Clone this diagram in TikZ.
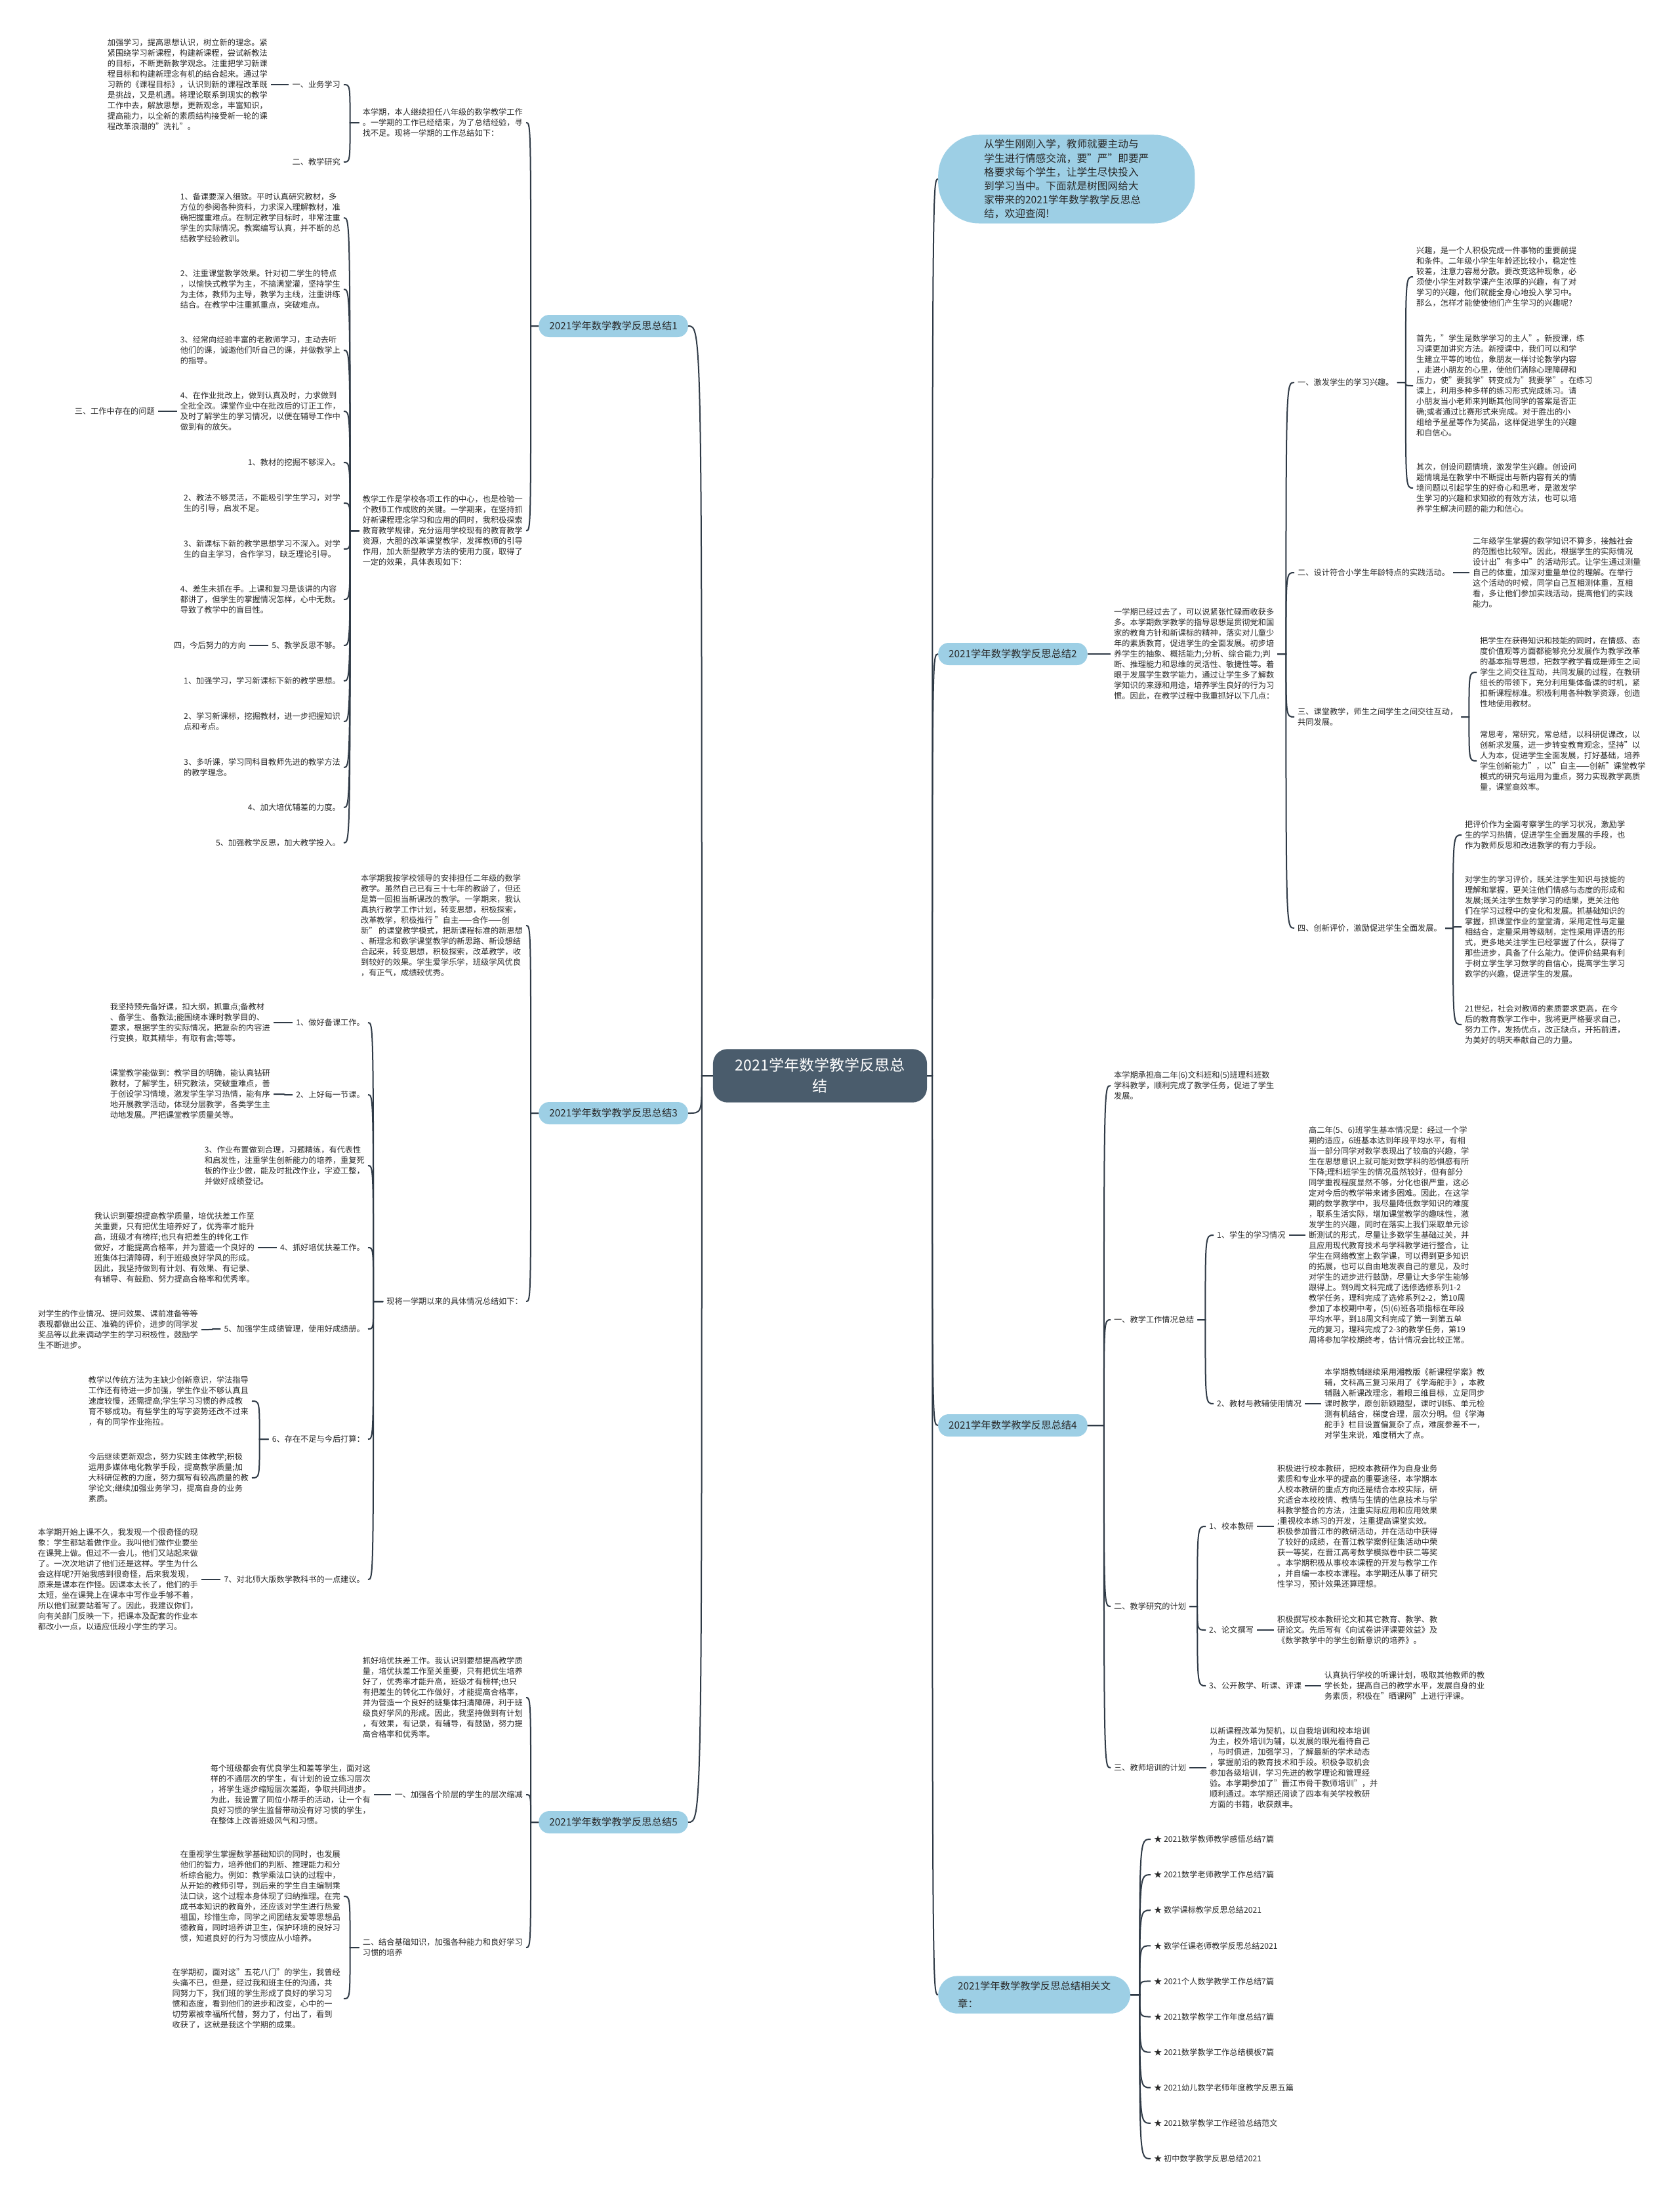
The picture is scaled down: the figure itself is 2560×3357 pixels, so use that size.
\documentclass[tikz,border=0pt]{standalone}
\usepackage{fontspec}
\setmainfont{Noto Sans CJK SC}
\usetikzlibrary{calc}

\definecolor{linegray}{RGB}{47,58,70}
\definecolor{rootslate}{RGB}{74,92,108}
\definecolor{pillblue}{RGB}{157,207,229}
\definecolor{inkgray}{RGB}{40,40,40}

\newcommand\link[3]{%
  \path (#1) ++(#3,0) coordinate (lk);
  \draw[conn] (#1) -- (lk) .. controls (lk |- #2) .. (#2);}

\begin{document}
\begin{tikzpicture}[x=1pt, y=-1pt,
  conn/.style={draw=linegray, line width=2pt},
  hub/.style={fill=rootslate, text=white, rounded corners=22pt, align=center, inner xsep=34pt, inner ysep=14pt, font=\fontsize{23}{32}\selectfont},
  pill/.style={fill=pillblue, text=inkgray, rounded corners=16pt, minimum height=34pt, inner xsep=16pt, inner ysep=0pt, font=\fontsize{15.3}{19}\selectfont},
  txt/.style={text=inkgray, align=left, inner sep=5pt, font=\fontsize{12.2}{16}\selectfont},
  ltext/.style={txt, anchor=east},
  rtext/.style={txt, anchor=west}
]
\useasboundingbox (0,0) rectangle (2560,3357);

\node[hub] (hub) at (1250,1640) {2021学年数学教学反思总\\结};

\node[pill, anchor=east] (br1) at (1049,497) {2021学年数学教学反思总结1};
\node[pill, anchor=east] (br3) at (1049,1697) {2021学年数学教学反思总结3};
\node[pill, anchor=east] (br5) at (1049,2778) {2021学年数学教学反思总结5};
\node[pill, anchor=west] (br2) at (1430,997) {2021学年数学教学反思总结2};
\node[pill, anchor=west] (br4) at (1430,2173) {2021学年数学教学反思总结4};
\node[pill, anchor=west, align=left, rounded corners=29pt, inner xsep=30pt, inner ysep=8pt, font=\fontsize{15.3}{27}\selectfont] (br6) at (1430,3041) {2021学年数学教学反思总结相关文\\章：};
\node[pill, anchor=west, align=left, rounded corners=62pt, inner xsep=70pt, inner ysep=7pt, font=\fontsize{15.7}{21.2}\selectfont] (intro) at (1430,273) {从学生刚刚入学，教师就要主动与\\学生进行情感交流，要"严"即要严\\格要求每个学生，让学生尽快投入\\到学习当中。下面就是树图网给大\\家带来的2021学年数学教学反思总\\结，欢迎查阅!};

% branch 1
\node[ltext] (br1a) at (802,187) {本学期，本人继续担任八年级的数学教学工作\\。一学期的工作已经结束，为了总结经验，寻\\找不足。现将一学期的工作总结如下：};
\node[ltext] (br1a1) at (524,129) {一、业务学习};
\node[ltext] (br1a2) at (524,247) {二、教学研究};
\node[ltext] (br1a1t) at (413,129) {加强学习，提高思想认识，树立新的理念。紧\\紧围绕学习新课程，构建新课程，尝试新教法\\的目标，不断更新教学观念。注重把学习新课\\程目标和构建新理念有机的结合起来。通过学\\习新的《课程目标》，认识到新的课程改革既\\是挑战，又是机遇。将理论联系到现实的教学\\工作中去，解放思想，更新观念，丰富知识，\\提高能力，以全新的素质结构接受新一轮的课\\程改革浪潮的"洗礼"。};
\node[ltext] (br1b) at (802,809) {教学工作是学校各项工作的中心，也是检验一\\个教师工作成败的关键。一学期来，在坚持抓\\好新课程理念学习和应用的同时，我积极探索\\教育教学规律，充分运用学校现有的教育教学\\资源，大胆的改革课堂教学，发挥教师的引导\\作用，加大新型教学方法的使用力度，取得了\\一定的效果，具体表现如下：};
\node[ltext] (br1b1) at (524,332) {1、备课要深入细致。平时认真研究教材，多\\方位的参阅各种资料，力求深入理解教材，准\\确把握重难点。在制定教学目标时，非常注重\\学生的实际情况。教案编写认真，并不断的总\\结教学经验教训。};
\node[ltext] (br1b2) at (524,441) {2、注重课堂教学效果。针对初二学生的特点\\，以愉快式教学为主，不搞满堂灌，坚持学生\\为主体，教师为主导，教学为主线，注重讲练\\结合。在教学中注重抓重点，突破难点。};
\node[ltext] (br1b3) at (524,534) {3、经常向经验丰富的老教师学习，主动去听\\他们的课，诚邀他们听自己的课，并做教学上\\的指导。};
\node[ltext] (br1b4) at (524,627) {4、在作业批改上，做到认真及时，力求做到\\全批全改。课堂作业中在批改后的订正工作，\\及时了解学生的学习情况，以便在辅导工作中\\做到有的放矢。};
\node[ltext] (br1b4h) at (241,627) {三、工作中存在的问题};
\node[ltext] (br1b5) at (524,705) {1、教材的挖掘不够深入。};
\node[ltext] (br1b6) at (524,767) {2、教法不够灵活，不能吸引学生学习，对学\\生的引导，启发不足。};
\node[ltext] (br1b7) at (524,837) {3、新课标下新的教学思想学习不深入。对学\\生的自主学习，合作学习，缺乏理论引导。};
\node[ltext] (br1b8) at (524,914) {4、差生未抓在手。上课和复习是该讲的内容\\都讲了，但学生的掌握情况怎样，心中无数。\\导致了教学中的盲目性。};
\node[ltext] (br1b9) at (524,984) {5、教学反思不够。};
\node[ltext] (br1b9h) at (380,984) {四，今后努力的方向};
\node[ltext] (br1b10) at (524,1038) {1、加强学习，学习新课标下新的教学思想。};
\node[ltext] (br1b11) at (524,1100) {2、学习新课标，挖掘教材，进一步把握知识\\点和考点。};
\node[ltext] (br1b12) at (524,1170) {3、多听课，学习同科目教师先进的教学方法\\的教学理念。};
\node[ltext] (br1b13) at (524,1231) {4、加大培优辅差的力度。};
\node[ltext] (br1b14) at (524,1285) {5、加强教学反思，加大教学投入。};

% branch 3
\node[ltext] (br3a) at (802,1411) {本学期我按学校领导的安排担任二年级的数学\\教学。虽然自己已有三十七年的教龄了，但还\\是第一回担当新课改的教学。一学期来，我认\\真执行教学工作计划，转变思想，积极探索，\\改革教学，积极推行 "自主——合作——创\\新" 的课堂教学模式，把新课程标准的新思想\\、新理念和数学课堂教学的新思路、新设想结\\合起来，转变思想，积极探索，改革教学，收\\到较好的效果。学生爱学乐学，班级学风优良\\，有正气，成绩较优秀。};
\node[ltext] (br3b) at (802,1984) {现将一学期以来的具体情况总结如下：};
\node[ltext] (br3b1) at (561,1559) {1、做好备课工作。};
\node[ltext] (br3bt1) at (417,1559) {我坚持预先备好课，扣大纲，抓重点;备教材\\、备学生、备教法;能围绕本课时教学目的、\\要求，根据学生的实际情况，把复杂的内容进\\行变换，取其精华，有取有舍;等等。};
\node[ltext] (br3b2) at (561,1669) {2、上好每一节课。};
\node[ltext] (br3bt2) at (417,1668) {课堂教学能做到：教学目的明确，能认真钻研\\教材，了解学生，研究教法，突破重难点，善\\于创设学习情境，激发学生学习热情，能有序\\地开展教学活动，体现分层教学，各类学生主\\动地发展。严把课堂教学质量关等。};
\node[ltext] (br3b3) at (561,1777) {3、作业布置做到合理，习题精练，有代表性\\和启发性，注重学生创新能力的培养，重复死\\板的作业少做，能及时批改作业，字迹工整，\\并做好成绩登记。};
\node[ltext] (br3b4) at (561,1902) {4、抓好培优扶差工作。};
\node[ltext] (br3bt4) at (393,1902) {我认识到要想提高教学质量，培优扶差工作至\\关重要，只有把优生培养好了，优秀率才能升\\高，班级才有榜样;也只有把差生的转化工作\\做好，才能提高合格率，并为营造一个良好的\\班集体扫清障碍，利于班级良好学风的形成。\\因此，我坚持做到有计划、有效果、有记录、\\有辅导、有鼓励、努力提高合格率和优秀率。};
\node[ltext] (br3b5) at (561,2026) {5、加强学生成绩管理，使用好成绩册。};
\node[ltext] (br3bt5) at (307,2027) {对学生的作业情况、提问效果、课前准备等等\\表现都做出公正、准确的评价，进步的同学发\\奖品等以此来调动学生的学习积极性，鼓励学\\生不断进步。};
\node[ltext] (br3b6) at (561,2194) {6、存在不足与今后打算：};
\node[ltext] (br3b6a) at (384,2136) {教学以传统方法为主缺少创新意识，学法指导\\工作还有待进一步加强，学生作业不够认真且\\速度较慢，还需提高;学生学习习惯的养成教\\育不够成功。有些学生的写字姿势还改不过来\\，有的同学作业拖拉。};
\node[ltext] (br3b6b) at (384,2253) {今后继续更新观念，努力实践主体教学;积极\\运用多媒体电化教学手段，提高教学质量;加\\大科研促教的力度，努力撰写有较高质量的教\\学论文;继续加强业务学习，提高自身的业务\\素质。};
\node[ltext] (br3b7) at (561,2408) {7、对北师大版数学教科书的一点建议。};
\node[ltext] (br3bt7) at (307,2408) {本学期开始上课不久，我发现一个很奇怪的现\\象：学生都站着做作业。我叫他们做作业要坐\\在课凳上做。但过不一会儿，他们又站起来做\\了。一次次地讲了他们还是这样。学生为什么\\会这样呢?开始我感到很奇怪，后来我发现，\\原来是课本在作怪。因课本太长了，他们的手\\太短，坐在课凳上在课本中写作业手够不着，\\所以他们就要站着写了。因此，我建议你们，\\向有关部门反映一下，把课本及配套的作业本\\都改小一点，以适应低段小学生的学习。};

% branch 5
\node[ltext] (br5a) at (802,2588) {抓好培优扶差工作。我认识到要想提高教学质\\量，培优扶差工作至关重要，只有把优生培养\\好了，优秀率才能升高，班级才有榜样;也只\\有把差生的转化工作做好，才能提高合格率，\\并为营造一个良好的班集体扫清障碍，利于班\\级良好学风的形成。因此，我坚持做到有计划\\，有效果，有记录，有辅导，有鼓励，努力提\\高合格率和优秀率。};
\node[ltext] (br5b) at (802,2736) {一、加强各个阶层的学生的层次缩减};
\node[ltext] (br5bt) at (570,2736) {每个班级都会有优良学生和差等学生，面对这\\样的不通层次的学生，有计划的设立练习层次\\，将学生逐步缩短层次差距，争取共同进步。\\为此，我设置了同位小帮手的活动，让一个有\\良好习惯的学生监督带动没有好习惯的学生，\\在整体上改善班级风气和习惯。};
\node[ltext] (br5c) at (802,2969) {二、结合基础知识，加强各种能力和良好学习\\习惯的培养};
\node[ltext] (br5c1) at (524,2891) {在重视学生掌握数学基础知识的同时，也发展\\他们的智力，培养他们的判断、推理能力和分\\析综合能力。例如：教学乘法口诀的过程中，\\从开始的教师引导，到后来的学生自主编制乘\\法口诀，这个过程本身体现了归纳推理。在完\\成书本知识的教育外，还应该对学生进行热爱\\祖国，珍惜生命，同学之间团结友爱等思想品\\德教育，同时培养讲卫生，保护环境的良好习\\惯，知道良好的行为习惯应从小培养。};
\node[ltext] (br5c2) at (524,3047) {在学期初，面对这"五花八门"的学生，我曾经\\头痛不已，但是，经过我和班主任的沟通，共\\同努力下，我们班的学生形成了良好的学习习\\惯和态度，看到他们的进步和改变，心中的一\\切劳累被幸福所代替，努力了，付出了，看到\\收获了，这就是我这个学期的成果。};

% branch 2
\node[rtext] (br2a) at (1693,997) {一学期已经过去了，可以说紧张忙碌而收获多\\多。本学期数学教学的指导思想是贯彻党和国\\家的教育方针和新课标的精神，落实对儿童少\\年的素质教育，促进学生的全面发展。初步培\\养学生的抽象、概括能力;分析、综合能力;判\\断、推理能力和思维的灵活性、敏捷性等。着\\眼于发展学生数学能力，通过让学生多了解数\\学知识的来源和用途，培养学生良好的行为习\\惯。因此，在教学过程中我重抓好以下几点：};
\node[rtext] (br2a1) at (1973,583) {一、激发学生的学习兴趣。};
\node[rtext] (br2a1a) at (2154,422) {兴趣，是一个人积极完成一件事物的重要前提\\和条件。二年级小学生年龄还比较小，稳定性\\较差，注意力容易分散。要改变这种现象，必\\须使小学生对数学课产生浓厚的兴趣，有了对\\学习的兴趣，他们就能全身心地投入学习中。\\那么，怎样才能使使他们产生学习的兴趣呢?};
\node[rtext] (br2a1b) at (2154,588) {首先，"学生是数学学习的主人"。新授课，练\\习课更加讲究方法。新授课中，我们可以和学\\生建立平等的地位，象朋友一样讨论教学内容\\，走进小朋友的心里，使他们消除心理障碍和\\压力，使"要我学"转变成为"我要学"。在练习\\课上，利用多种多样的练习形式完成练习。请\\小朋友当小老师来判断其他同学的答案是否正\\确;或者通过比赛形式来完成。对于胜出的小\\组给予星星等作为奖品，这样促进学生的兴趣\\和自信心。};
\node[rtext] (br2a1c) at (2154,744) {其次，创设问题情境，激发学生兴趣。创设问\\题情境是在教学中不断提出与新内容有关的情\\境问题以引起学生的好奇心和思考，是激发学\\生学习的兴趣和求知欲的有效方法，也可以培\\养学生解决问题的能力和信心。};
\node[rtext] (br2a2) at (1973,873) {二、设计符合小学生年龄特点的实践活动。};
\node[rtext] (br2a2t) at (2240,873) {二年级学生掌握的数学知识不算多，接触社会\\的范围也比较窄。因此，根据学生的实际情况\\设计出"有多中"的活动形式。让学生通过测量\\自己的体重，加深对重量单位的理解。在举行\\这个活动的时候，同学自己互相测体重，互相\\看，多让他们参加实践活动，提高他们的实践\\能力。};
\node[rtext] (br2a3) at (1973,1093) {三、课堂教学，师生之间学生之间交往互动，\\共同发展。};
\node[rtext] (br2a3a) at (2251,1025) {把学生在获得知识和技能的同时，在情感、态\\度价值观等方面都能够充分发展作为教学改革\\的基本指导思想，把数学教学看成是师生之间\\学生之间交往互动，共同发展的过程，在教研\\组长的带领下，充分利用集体备课的时机，紧\\扣新课程标准。积极利用各种教学资源，创造\\性地使用教材。};
\node[rtext] (br2a3b) at (2251,1160) {常思考，常研究，常总结，以科研促课改，以\\创新求发展，进一步转变教育观念，坚持"以\\人为本，促进学生全面发展，打好基础，培养\\学生创新能力"，以"自主——创新"课堂教学\\模式的研究与运用为重点，努力实现教学高质\\量，课堂高效率。};
\node[rtext] (br2a4) at (1973,1415) {四、创新评价，激励促进学生全面发展。};
\node[rtext] (br2a4a) at (2228,1273) {把评价作为全面考察学生的学习状况，激励学\\生的学习热情，促进学生全面发展的手段，也\\作为教师反思和改进教学的有力手段。};
\node[rtext] (br2a4b) at (2228,1413) {对学生的学习评价，既关注学生知识与技能的\\理解和掌握，更关注他们情感与态度的形成和\\发展;既关注学生数学学习的结果，更关注他\\们在学习过程中的变化和发展。抓基础知识的\\掌握，抓课堂作业的堂堂清，采用定性与定量\\相结合，定量采用等级制，定性采用评语的形\\式，更多地关注学生已经掌握了什么，获得了\\那些进步，具备了什么能力。使评价结果有利\\于树立学生学习数学的自信心，提高学生学习\\数学的兴趣，促进学生的发展。};
\node[rtext] (br2a4c) at (2228,1562) {21世纪，社会对教师的素质要求更高，在今\\后的教育教学工作中，我将更严格要求自己，\\努力工作，发扬优点，改正缺点，开拓前进，\\为美好的明天奉献自己的力量。};

% branch 4
\node[rtext] (br4a) at (1693,1655) {本学期承担高二年(6)文科班和(5)班理科班数\\学科教学，顺利完成了教学任务，促进了学生\\发展。};
\node[rtext] (br4b) at (1693,2012) {一、教学工作情况总结};
\node[rtext] (br4b1) at (1850,1883) {1、学生的学习情况};
\node[rtext] (br4bt1) at (1990,1883) {高二年(5、6)班学生基本情况是：经过一个学\\期的适应，6班基本达到年段平均水平，有相\\当一部分同学对数学表现出了较高的兴趣，学\\生在思想意识上就可能对数学科的恐惧感有所\\下降;理科班学生的情况虽然较好，但有部分\\同学重视程度显然不够，分化也很严重，这必\\定对今后的教学带来诸多困难。因此，在这学\\期的数学教学中，我尽量降低数学知识的难度\\，联系生活实际，增加课堂教学的趣味性，激\\发学生的兴趣，同时在落实上我们采取单元诊\\断测试的形式，尽量让多数学生基础过关，并\\且应用现代教育技术与学科教学进行整合，让\\学生在网络教室上数学课，可以得到更多知识\\的拓展，也可以自由地发表自己的意见，及时\\对学生的进步进行鼓励，尽量让大多学生能够\\跟得上。到9周文科完成了选修选修系列1-2\\教学任务，理科完成了选修系列2-2，第10周\\参加了本校期中考，(5)(6)班各项指标在年段\\平均水平，到18周文科完成了第一到第五单\\元的复习，理科完成了2-3的教学任务，第19\\周将参加学校期终考，估计情况会比较正常。};
\node[rtext] (br4b2) at (1850,2140) {2、教材与教辅使用情况};
\node[rtext] (br4bt2) at (2014,2140) {本学期教辅继续采用湘教版《新课程学案》教\\辅，文科高三复习采用了《学海舵手》，本教\\辅融入新课改理念，着眼三维目标，立足同步\\课时教学，原创新颖题型，课时训练、单元检\\测有机结合，梯度合理，层次分明。但《学海\\舵手》栏目设置偏复杂了点，难度参差不一，\\对学生来说，难度稍大了点。};
\node[rtext] (br4c) at (1693,2449) {二、教学研究的计划};
\node[rtext] (br4c1) at (1838,2327) {1、校本教研};
\node[rtext] (br4ct1) at (1942,2327) {积极进行校本教研，把校本教研作为自身业务\\素质和专业水平的提高的重要途径，本学期本\\人校本教研的重点方向还是结合本校实际，研\\究适合本校校情、教情与生情的信息技术与学\\科教学整合的方法，注重实际应用和应用效果\\;重视校本练习的开发，注重提高课堂实效。\\积极参加晋江市的教研活动，并在活动中获得\\了较好的成绩，在晋江教学案例征集活动中荣\\获一等奖，在晋江高考数学模拟卷中获二等奖\\。本学期积极从事校本课程的开发与教学工作\\，并自编一本校本课程。本学期还从事了研究\\性学习，预计效果还算理想。};
\node[rtext] (br4c2) at (1838,2485) {2、论文撰写};
\node[rtext] (br4ct2) at (1942,2485) {积极撰写校本教研论文和其它教育、教学、教\\研论文。先后写有《向试卷讲评课要效益》及\\《数学教学中的学生创新意识的培养》。};
\node[rtext] (br4c3) at (1838,2570) {3、公开教学、听课、评课};
\node[rtext] (br4ct3) at (2014,2570) {认真执行学校的听课计划，吸取其他教师的教\\学长处，提高自己的教学水平，发展自身的业\\务素质，积极在"晒课网"上进行评课。};
\node[rtext] (br4d) at (1693,2695) {三、教师培训的计划};
\node[rtext] (br4dt) at (1839,2695) {以新课程改革为契机，以自我培训和校本培训\\为主，校外培训为辅，以发展的眼光看待自己\\，与时俱进，加强学习，了解最新的学术动态\\，掌握前沿的教育技术和手段。积极争取机会\\参加各级培训，学习先进的教学理论和管理经\\验。本学期参加了"晋江市骨干教师培训"，并\\顺利通过。本学期还阅读了四本有关学校教研\\方面的书籍，收获颇丰。};

% related articles
\foreach \t [count=\i] in {2021数学教师教学感悟总结7篇, 2021数学老师教学工作总结7篇, 数学课标教学反思总结2021, 数学任课老师教学反思总结2021, 2021个人数学教学工作总结7篇, 2021数学教学工作年度总结7篇, 2021数学教学工作总结模板7篇, 2021幼儿数学老师年度教学反思五篇, 2021数学教学工作经验总结范文, 初中数学教学反思总结2021}{
  \node[rtext] (rel\i) at (1754,{2804+54.1*(\i-1)}) {★ \t};
}

% connectors
\foreach \c in {br1,br3,br5} {\link{hub.west}{\c.east}{-17}}
\foreach \c in {intro,br2,br4,br6} {\link{hub.east}{\c.west}{8}}
\foreach \c in {a,b} {\link{br1.west}{br1\c.east}{-12}}
\foreach \c in {1,2} {\link{br1a.west}{br1a\c.east}{-14}}
\link{br1a1.west}{br1a1t.east}{-12}
\foreach \c in {1,...,14} {\link{br1b.west}{br1b\c.east}{-14}}
\link{br1b4.west}{br1b4h.east}{-12}
\link{br1b9.west}{br1b9h.east}{-12}
\foreach \c in {a,b} {\link{br3.west}{br3\c.east}{-12}}
\foreach \c in {1,...,7} {\link{br3b.west}{br3b\c.east}{-15}}
\foreach \c in {1,2,4,5,7} {\link{br3b\c.west}{br3bt\c.east}{-12}}
\foreach \c in {a,b} {\link{br3b6.west}{br3b6\c.east}{-14}}
\foreach \c in {a,b,c} {\link{br5.west}{br5\c.east}{-12}}
\link{br5b.west}{br5bt.east}{-12}
\foreach \c in {1,2} {\link{br5c.west}{br5c\c.east}{-14}}
\link{br2.east}{br2a.west}{12}
\foreach \c in {1,...,4} {\link{br2a.east}{br2a\c.west}{13}}
\foreach \c in {a,b,c} {\link{br2a1.east}{br2a1\c.west}{13}}
\link{br2a2.east}{br2a2t.west}{12}
\foreach \c in {a,b} {\link{br2a3.east}{br2a3\c.west}{12}}
\foreach \c in {a,b,c} {\link{br2a4.east}{br2a4\c.west}{12}}
\foreach \c in {a,b,c,d} {\link{br4.east}{br4\c.west}{25}}
\foreach \c in {1,2} {\link{br4b.east}{br4b\c.west}{12} \link{br4b\c.east}{br4bt\c.west}{12}}
\foreach \c in {1,2,3} {\link{br4c.east}{br4c\c.west}{12} \link{br4c\c.east}{br4ct\c.west}{12}}
\link{br4d.east}{br4dt.west}{12}
\foreach \i in {1,...,10} {\link{br6.east}{rel\i.west}{14}}
\end{tikzpicture}
\end{document}
